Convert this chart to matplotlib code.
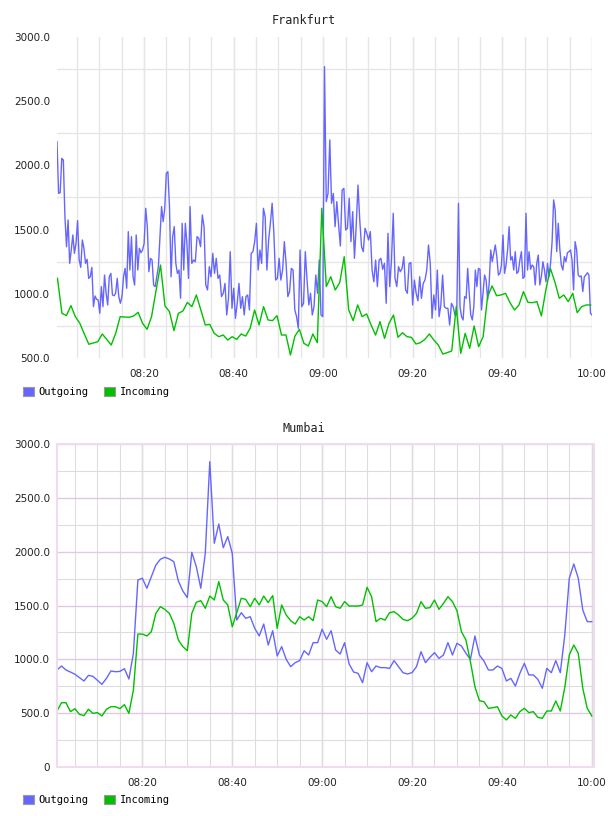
import matplotlib
matplotlib.use('Agg')
from matplotlib import pyplot as plt
from matplotlib.patches import Patch
from matplotlib.ticker import MultipleLocator, FuncFormatter
import matplotlib.dates as mdates
import pandas as pd

# Frankfurt outgoing, read per half hour
fra_out_a = [2185, 1782, 1787, 2055, 2042, 1601, 1367, 1575, 1237, 1341,
             1458, 1315, 1393, 1570, 1263, 1206, 1419, 1354, 1237, 1269,
             1120, 1133, 1206, 900, 983, 957, 952, 848, 1056, 900,
             1146, 1004, 913, 1133, 1159, 991, 985, 1004, 1120, 978,
             926, 978, 1133, 1198, 1043, 1484, 1185, 1445, 1133, 1068,
             1458, 1185, 1354, 1320, 1341, 1393, 1666, 1523, 1172, 1276,
             1263, 1068, 1056, 1133, 1211, 1445, 1679, 1562, 1666, 1938,
             1951, 1679, 1133, 1445, 1523, 1237, 1159, 1185, 965, 1549,
             1185, 1549, 1393, 1120, 1679]
fra_out_b = [1237, 1263, 1250, 1445, 1432, 1367, 1614, 1523, 1069, 1030,
             1211, 1133, 1315, 1159, 1276, 1120, 1146, 978, 1004, 1081,
             835, 965, 1328, 887, 1043, 809, 926, 1081, 887, 978,
             835, 978, 991, 874, 1315, 1328, 1406, 1549, 1185, 1341,
             1237, 1666, 1601, 1185, 1419, 1549, 1705, 1471, 1107, 1120,
             1276, 1107, 1185, 1406, 1237, 978, 1017, 1198, 1185, 874,
             822, 731, 1341, 900, 926, 1328, 1107, 913, 1004, 835,
             900, 1146, 1004, 1263, 835, 822, 2769]
fra_out_c = [1718, 1782, 2198, 1705, 1782, 1523, 1718, 1536, 1372, 1808,
             1821, 1497, 1510, 1744, 1406, 1640, 1276, 1536, 1847, 1575,
             1367, 1328, 1510, 1471, 1419, 1484, 1185, 1094, 1263, 1056,
             1263, 1276, 1191, 1237, 926, 1471, 1056, 1263, 1627, 1120,
             1056, 1211, 1172, 1198, 1289, 1030, 1004, 1237, 1243, 913,
             1107, 1004, 946, 1133, 965, 1081, 1107, 1185, 1380, 1237,
             809, 991, 874, 1185, 822, 913, 1146, 900, 887, 887,
             757, 926, 900, 835, 835, 1705]
fra_out_d = [900, 822, 796, 978, 965, 1198, 1004, 835, 796, 900,
             1185, 1056, 1198, 1191, 874, 1004, 1146, 1107, 952, 1081,
             1341, 1250, 1315, 1380, 1289, 1146, 1159, 1224, 1458, 1159,
             1224, 1341, 1523, 1263, 1289, 1185, 1328, 1159, 1172, 1263,
             1328, 1120, 1133, 1627, 1185, 1328, 1191, 1224, 1211, 1069,
             1237, 1302, 1069, 1133, 1250, 1185, 1094, 1237, 1133, 1237,
             1406, 1731, 1653, 1328, 1549, 1354, 1224, 1185, 1289, 1250,
             1320, 1328, 1341, 1263, 1030, 1406, 1341, 1146, 1133, 1139,
             1017, 1133, 1146, 1164, 1146, 848, 835]
fra_out_bounds = ['08:00:36', '08:30:18', '09:00:18', '09:30:12', '10:00:00']

# Frankfurt incoming, one value per minute from 08:00:42
fra_in = [1121, 848, 830, 908, 822, 770, 687, 607, 617, 627,
          687, 645, 601, 692, 822, 819, 817, 827, 856, 770,
          723, 822, 1024, 1224, 905, 861, 713, 848, 866, 933,
          900, 991, 874, 757, 762, 692, 666, 679, 640, 666,
          645, 687, 671, 731, 874, 757, 900, 796, 791, 830,
          679, 679, 523, 671, 723, 614, 594, 687, 619, 1666,
          1056, 1133, 1030, 1087, 1289, 874, 791, 913, 822, 843,
          757, 679, 783, 653, 770, 835, 661, 697, 666, 661,
          609, 619, 645, 687, 640, 601, 531, 542, 555, 900,
          536, 692, 575, 749, 588, 666, 978, 1061, 985, 991,
          1004, 931, 874, 913, 1017, 933, 931, 939, 827, 1030,
          1198, 1094, 965, 991, 939, 1004, 853, 900, 913, 913]
fra_in_start = '08:00:42'

# Mumbai, one value per minute from 08:01
mum_out = [901, 938, 901, 882, 861, 830, 799, 851, 842, 805,
           768, 823, 892, 885, 888, 913, 817, 1056, 1737, 1753,
           1660, 1768, 1876, 1929, 1948, 1932, 1907, 1728, 1635, 1573,
           1994, 1861, 1660, 1985, 2836, 2078, 2257, 2037, 2140, 1985,
           1365, 1433, 1381, 1396, 1288, 1217, 1328, 1133, 1266, 1031,
           1118, 1000, 932, 969, 988, 1080, 1040, 1155, 1155, 1279,
           1186, 1266, 1087, 1049, 1155, 957, 882, 870, 783, 969,
           885, 938, 923, 923, 916, 988, 932, 876, 864, 876,
           932, 1071, 969, 1019, 1062, 1009, 1040, 1155, 1040, 1149,
           1124, 1056, 1000, 1217, 1040, 985, 901, 901, 938, 916,
           799, 823, 752, 870, 963, 855, 855, 814, 731, 916,
           876, 988, 876, 1226, 1753, 1886, 1753, 1458, 1350, 1350]
mum_in = [520, 597, 597, 514, 542, 489, 477, 536, 498, 505,
          474, 536, 560, 560, 542, 579, 498, 715, 1235, 1235,
          1217, 1257, 1427, 1489, 1464, 1427, 1334, 1180, 1118, 1080,
          1427, 1530, 1545, 1474, 1588, 1551, 1722, 1551, 1505, 1303,
          1433, 1567, 1557, 1489, 1567, 1505, 1588, 1527, 1592, 1288,
          1505, 1412, 1359, 1328, 1396, 1365, 1396, 1359, 1551, 1536,
          1489, 1582, 1489, 1474, 1536, 1495, 1495, 1495, 1505, 1669,
          1582, 1350, 1381, 1365, 1433, 1443, 1412, 1371, 1359, 1381,
          1427, 1536, 1474, 1480, 1551, 1464, 1520, 1582, 1536, 1452,
          1257, 1180, 978, 746, 616, 607, 545, 551, 560, 474,
          437, 483, 452, 514, 545, 505, 514, 461, 452, 520,
          520, 613, 520, 740, 1040, 1133, 1056, 731, 545, 474]
mum_start = '08:01:00'

day = '2024-01-01 '
blue = '#6666ff'
green = '#00c000'


def seg_times(vals, t0, t1, first):
    n = len(vals) if first else len(vals) + 1
    t = pd.date_range(day + t0, day + t1, periods=n)
    return t if first else t[1:]


fra_out_t = []
fra_out_v = []
for i, part in enumerate([fra_out_a, fra_out_b, fra_out_c, fra_out_d]):
    fra_out_t += list(seg_times(part, fra_out_bounds[i], fra_out_bounds[i + 1], i == 0))
    fra_out_v += part
fra_in_t = pd.date_range(day + fra_in_start, periods=len(fra_in), freq='1min')
mum_t = pd.date_range(day + mum_start, periods=len(mum_out), freq='1min')


def yfmt(v, pos):
    return '0' if v == 0 else '%.1f' % v


fig = plt.figure(figsize=(6.08, 8.16), dpi=100)
W, H = 608.0, 816.0
ax1 = fig.add_axes([57 / W, 1 - 358 / H, 535 / W, 321 / H])
ax2 = fig.add_axes([57 / W, 1 - 767 / H, 537 / W, 323 / H])

ax1.plot(fra_out_t, fra_out_v, color=blue, lw=1.0)
ax1.plot(fra_in_t, fra_in, color=green, lw=1.0)
ax2.plot(mum_t, mum_out, color=blue, lw=1.0)
ax2.plot(mum_t, mum_in, color=green, lw=1.0)

ax1.set_xlim(pd.Timestamp(day + '08:00:36'), pd.Timestamp(day + '10:00:00'))
ax1.set_ylim(500, 3000)
ax2.set_xlim(pd.Timestamp(day + '08:01:00'), pd.Timestamp(day + '10:00:30'))
ax2.set_ylim(0, 3000)

for ax in (ax1, ax2):
    ax.xaxis.set_major_locator(mdates.MinuteLocator(byminute=[0, 20, 40]))
    ax.xaxis.set_minor_locator(mdates.MinuteLocator(byminute=range(0, 60, 5)))
    ax.xaxis.set_major_formatter(mdates.DateFormatter('%H:%M'))
    ax.xaxis.remove_overlapping_locs = False
    ax.yaxis.set_major_locator(MultipleLocator(500))
    ax.yaxis.set_major_formatter(FuncFormatter(yfmt))
    ax.tick_params(which='both', length=0, labelsize=7.5, colors='#222222')
    ax.tick_params(axis='y', pad=5)
    ax.tick_params(axis='x', pad=8)
    ax.set_axisbelow(True)

# Frankfurt: plain grey grid, lines between the labelled values
ax1.yaxis.set_minor_locator(MultipleLocator(500, offset=250))
ax1.grid(True, which='minor', color='#e6e6e6', lw=1.0)
ax1.grid(True, which='major', axis='x', color='#e6e6e6', lw=1.0)
for s in ax1.spines.values():
    s.set_visible(False)

# Mumbai: purple major grid, grey minor grid
ax2.yaxis.set_minor_locator(MultipleLocator(250))
ax2.grid(True, which='major', color='#e2c8e2', lw=1.0)
ax2.grid(True, which='minor', color='#dddddd', lw=0.8)
for s in ax2.spines.values():
    s.set_color('#efdcef')
    s.set_linewidth(1.5)

fig.text(0.5, 1 - 20 / H, 'Frankfurt', ha='center', va='center',
         family='DejaVu Sans Mono', fontsize=8.5, color='#222222')
fig.text(0.5, 1 - 428 / H, 'Mumbai', ha='center', va='center',
         family='DejaVu Sans Mono', fontsize=8.5, color='#222222')

handles = [Patch(facecolor=blue, edgecolor='#999999', lw=0.8),
           Patch(facecolor=green, edgecolor='#999999', lw=0.8)]
labels = ['Outgoing', 'Incoming']
for ycen in (392, 800):
    fig.legend(handles, labels, loc='center left',
               bbox_to_anchor=(23 / W, 1 - ycen / H), ncol=2, frameon=False,
               prop={'family': 'DejaVu Sans Mono', 'size': 7.5},
               handlelength=1.05, handleheight=0.9, handletextpad=0.45,
               columnspacing=1.5, borderpad=0, borderaxespad=0)

fig.savefig('out.png', dpi=100)
